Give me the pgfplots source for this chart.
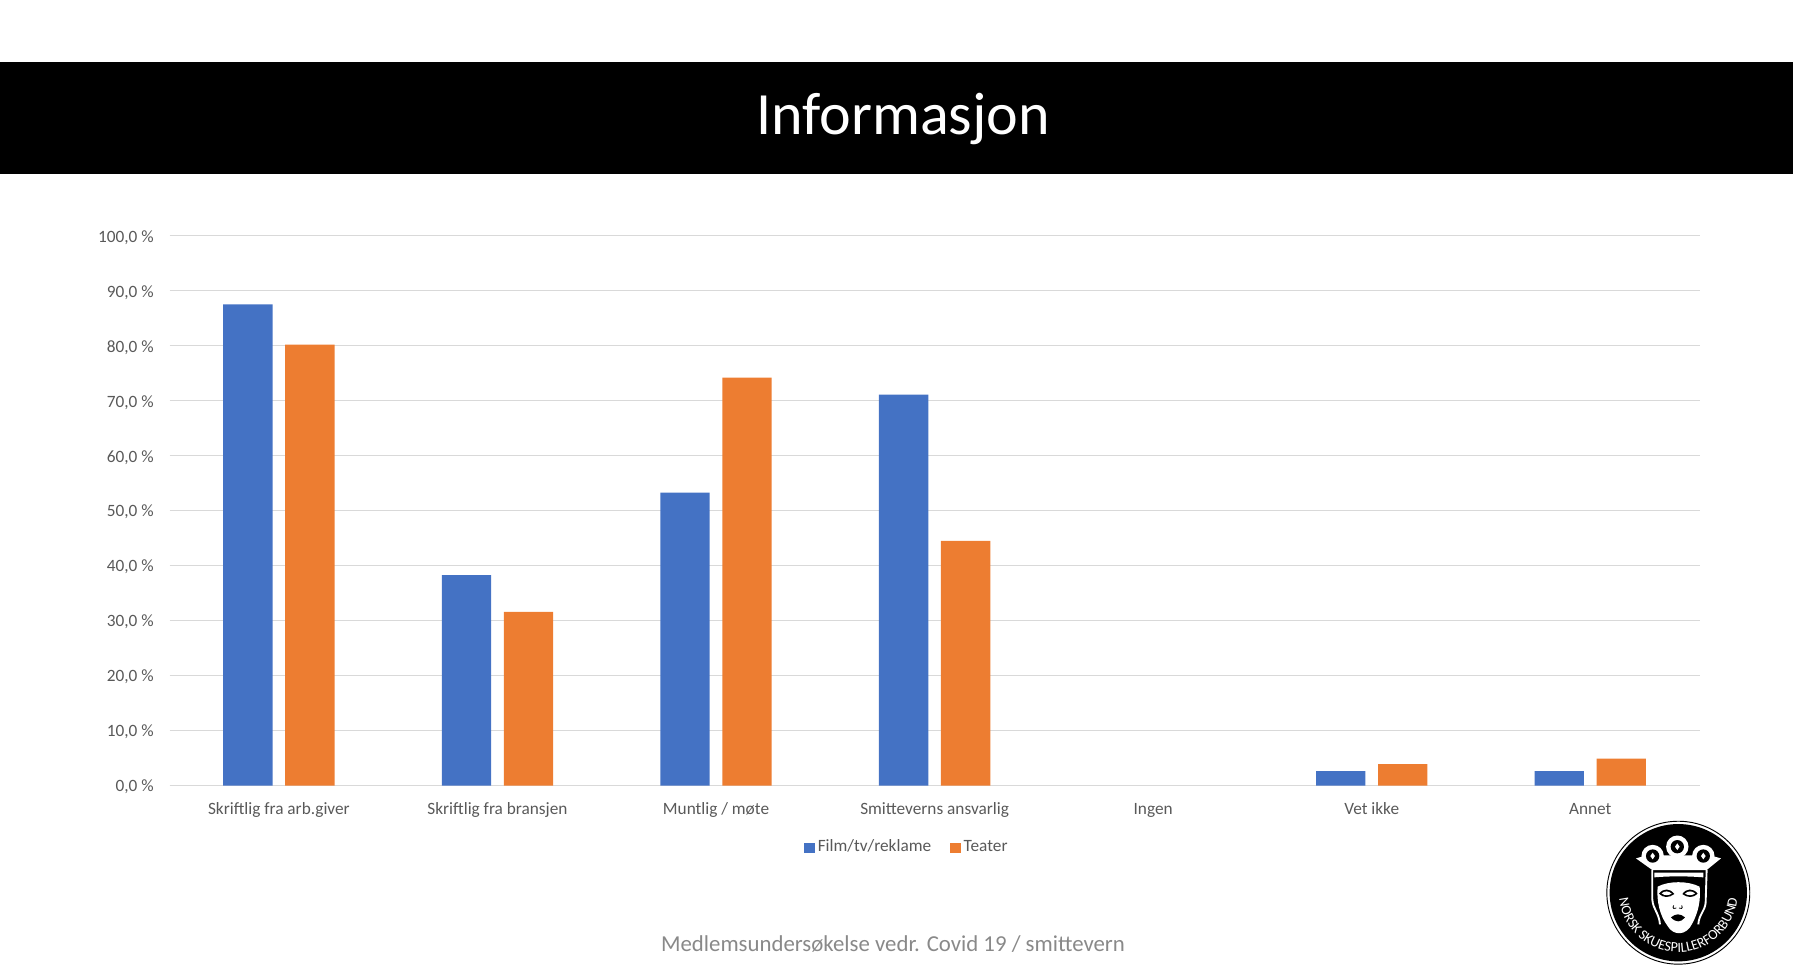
\documentclass[border=0pt]{standalone}
\usepackage{pgfplots}
\pgfplotsset{compat=1.18}
\usepackage{fontspec}
\setmainfont{Carlito}
\usetikzlibrary{decorations.text}
\definecolor{blueb}{HTML}{4472C4}
\definecolor{orangeb}{HTML}{ED7D31}
\definecolor{gridc}{HTML}{D9D9D9}
\definecolor{labc}{HTML}{595959}
\definecolor{subc}{HTML}{898989}
\begin{document}
\begin{tikzpicture}[x=0.75pt,y=-0.75pt]
\path[use as bounding box] (0,0) rectangle (1793,977);
\fill[black] (0,62) rectangle (1793,174);
\node[white,font=\fontsize{45}{54}\selectfont,inner sep=0pt] at (903,119.5) {Informasjon};
\node[subc,font=\fontsize{17.1}{21}\selectfont,inner sep=0pt,anchor=base] at (893,951) {Medlemsundersøkelse vedr. Covid 19 / smittevern};
\begin{axis}[
  at={(127.2pt,-589.2pt)},anchor=south west,
  scale only axis,width=1147.5pt,height=412.3pt,
  xmin=-0.5,xmax=6.5,ymin=0,ymax=100,
  axis y line*=left,axis x line*=bottom,
  y axis line style={draw=none},
  x axis line style={draw=gridc,line width=0.75pt},
  ytick={0,10,...,100},
  yticklabels={{0,0 \%},{10,0 \%},{20,0 \%},{30,0 \%},{40,0 \%},{50,0 \%},{60,0 \%},{70,0 \%},{80,0 \%},{90,0 \%},{100,0 \%}},
  xtick={0,1,2,3,4,5,6},
  xticklabels={Skriftlig fra arb.giver,Skriftlig fra bransjen,Muntlig / møte,Smitteverns ansvarlig,Ingen,Vet ikke,Annet},
  major tick length=0pt,
  ymajorgrids,grid style={draw=gridc,line width=0.75pt},
  tick label style={text=labc,font=\fontsize{12.95}{15}\selectfont},
  yticklabel style={inner sep=0pt,xshift=-11.8pt,yshift=-1.1pt},
  xticklabel style={inner sep=0pt,anchor=base,yshift=-21.3pt},
  legend style={draw=none,fill=none,at={(0.4820,-0.1135)},anchor=center,legend columns=2,
    font=\fontsize{12.95}{15}\selectfont,text=labc,inner sep=0pt,
    nodes={text height=9pt,text depth=3pt},
    /tikz/every even column/.append style={column sep=12pt}},
]
\addplot[ybar,bar width=37pt,bar shift=-23.25pt,fill=blueb,draw=none,
  legend image code/.code={\fill[blueb] (0pt,-4.1pt) rectangle (8.4pt,4.1pt);}]
  coordinates {(0,87.55) (1,38.3) (2,53.3) (3,71.1) (5,2.65) (6,2.65)};
\addlegendentry{Film/tv/reklame}
\addplot[ybar,bar width=37pt,bar shift=23.25pt,fill=orangeb,draw=none,
  legend image code/.code={\fill[orangeb] (0pt,-4.1pt) rectangle (8.4pt,4.1pt);}]
  coordinates {(0,80.2) (1,31.6) (2,74.2) (3,44.5) (5,3.93) (6,4.9)};
\addlegendentry{Teater}
\end{axis}
% logo
\begin{scope}[shift={(1678.3,892.7)},x=0.25pt,y=-0.25pt]
\draw[black,line width=0.7pt,fill=white] (0,0) circle[radius=53.6pt];
\fill[black] (0,0) circle[radius=51.5pt];
% crown
\fill[white] (-127,-103) -- (-95,-112) -- (95,-112) -- (128,-103) -- (85,-68) -- (-78,-68) -- cycle;
\foreach \cx/\cy in {-77/-110,-3/-138,75/-110}{
  \fill[white] (\cx,\cy) circle[radius=8.4pt];
  \fill[black] (\cx,\cy) circle[radius=5pt];
  \fill[white] (\cx,\cy-10) -- (\cx+7,\cy) -- (\cx,\cy+10) -- (\cx-7,\cy) -- cycle;
}
% band
\fill[white] (-72,-60) -- (75,-60) -- (75,-46) .. controls (30,-50) and (-30,-50) .. (-72,-46) -- cycle;
% side hair
\draw[white,line width=1.4pt] (-78,-68) -- (-78,20) .. controls (-76,50) and (-58,60) .. (-55,95);
\draw[white,line width=1.4pt] (85,-68) -- (82,30) .. controls (80,55) and (62,65) .. (60,95);
% face
\fill[white] (-62,-18) .. controls (-30,-36) and (30,-36) .. (64,-18) .. controls (68,20) and (60,60) .. (42,92) .. controls (25,130) and (-15,130) .. (-32,100) .. controls (-55,70) and (-66,25) .. cycle;
\fill[black] (-58,3) .. controls (-45,-14) and (-25,-14) .. (-12,4) .. controls (-28,16) and (-45,16) .. cycle;
\fill[white] (-50,2) .. controls (-42,-6) and (-28,-6) .. (-20,3) .. controls (-30,9) and (-42,9) .. cycle;
\fill[black] (12,4) .. controls (25,-14) and (45,-14) .. (58,3) .. controls (45,16) and (28,16) .. cycle;
\fill[white] (20,3) .. controls (28,-6) and (42,-6) .. (50,2) .. controls (42,9) and (30,9) .. cycle;
\draw[black,line width=0.6pt] (-14,38) .. controls (-20,48) and (-10,50) .. (-6,46);
\draw[black,line width=0.6pt] (10,38) .. controls (16,48) and (6,50) .. (2,46);
\fill[black] (-22,74) .. controls (-8,62) and (6,62) .. (20,74) .. controls (8,90) and (-8,90) .. cycle;
\begin{scope}[y=0.25pt]
\path[decorate,decoration={text along path,text align=center,
  text={|\fontsize{10.6}{12}\selectfont\color{white}|NORSK SKUESPILLERFORBUND}}]
  (184:44.5pt) arc[start angle=184,end angle=356,radius=44.5pt];
\end{scope}
\end{scope}
\end{tikzpicture}
\end{document}
